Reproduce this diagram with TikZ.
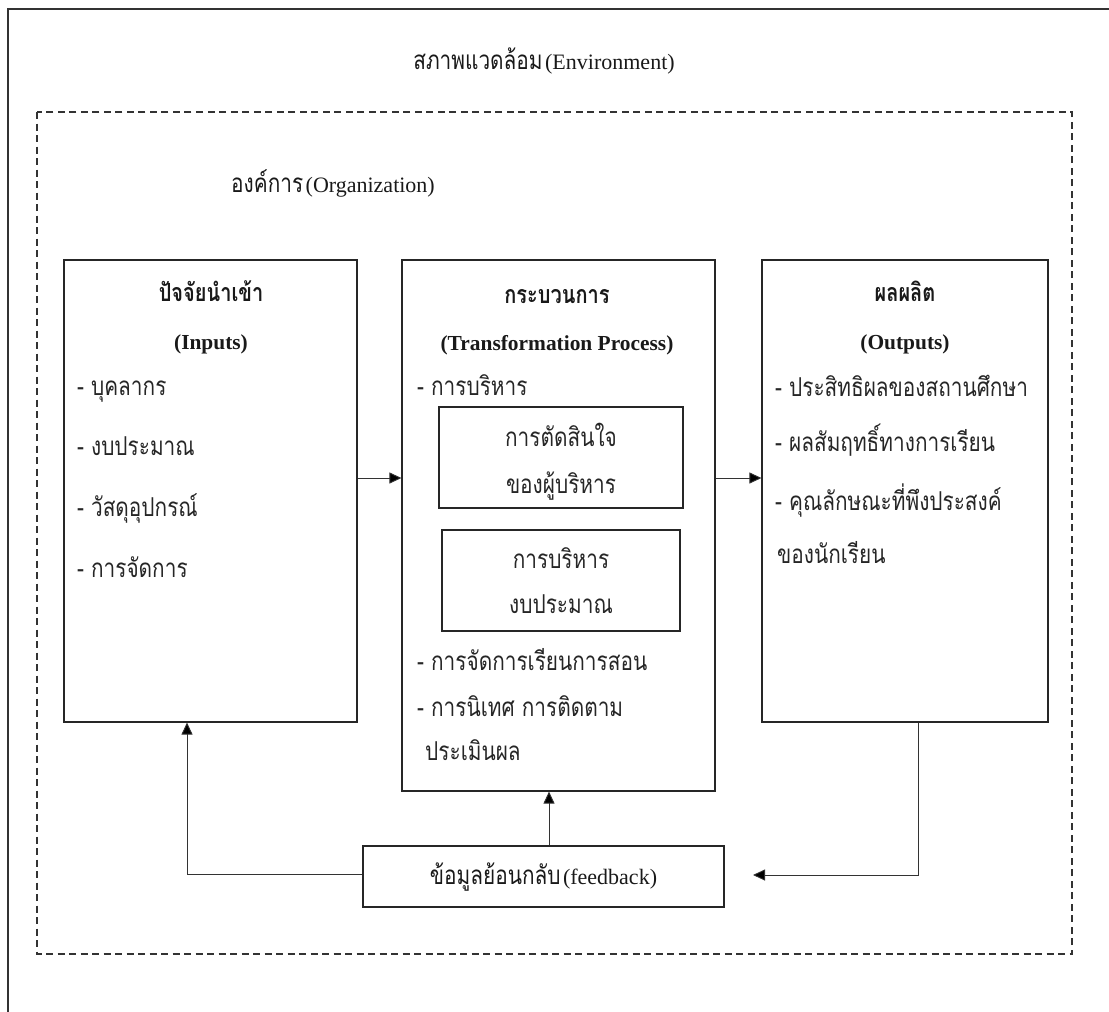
\documentclass[tikz,border=0pt]{standalone}
\usepackage{fontspec}
\setmainfont{Liberation Serif}
\newfontfamily\thai[Script=Thai,FakeStretch=0.8]{Loma}
\usetikzlibrary{arrows.meta}
\newcommand\tf{\thai\fontsize{26}{30}\selectfont}
\newcommand\lf{\rmfamily\fontsize{22}{26}\selectfont}
\newcommand\bfx{\bfseries\fontsize{21.4}{25}\selectfont}
\newcommand\tbf{\thai\bfseries\fontsize{25}{29}\selectfont}
\begin{document}
\begin{tikzpicture}[x=1pt,y=-1pt,
  bx/.style={draw=black!85, line width=1.1pt, inner sep=0pt},
  tl/.style={font=\tf, text=black!85, inner sep=0pt, anchor=base west},
  tc/.style={font=\tf, text=black!85, inner sep=0pt, anchor=base},
  hd/.style={text=black!90, inner sep=0pt, anchor=base},
  arr/.style={draw=black!80, line width=0.9pt, -{Triangle[length=12pt,width=11pt,fill=black]}},
  ln/.style={draw=black!80, line width=0.9pt}]
\useasboundingbox (0,0) rectangle (1109,1012);
% outer frame (environment)
\draw[line width=1.6pt, black!80] (8,1012) -- (8,9) -- (1109,9);
\node[hd] (env) at (544,69) {{\tf สภาพแวดล้อม} {\lf (Environment)}};
% organization dashed frame
\draw[black!80, line width=1.7pt, dash pattern=on 7pt off 4.5pt] (37,112) rectangle (1072,954);
\node[hd] (org) at (333,192) {{\tf องค์การ} {\lf (Organization)}};
% boxes
\node[bx, minimum width=293pt, minimum height=462pt] (inp) at (210.5,491) {};
\node[bx, minimum width=313pt, minimum height=531pt] (proc) at (558.5,525.5) {};
\node[bx, minimum width=286pt, minimum height=462pt] (out) at (905,491) {};
\node[bx, minimum width=244pt, minimum height=101pt] (sub1) at (561,457.5) {};
\node[bx, minimum width=238pt, minimum height=101pt] (sub2) at (561,580.5) {};
\node[bx, minimum width=361pt, minimum height=61pt] (fb) at (543.5,876.5) {};
% inputs text
\node[hd] (inT) at (211,301) {\tbf ปัจจัยนำเข้า};
\node[hd] (inE) at (211,349) {\bfx (Inputs)};
\node[tl] (in1) at (77,395) {- บุคลากร};
\node[tl] (in2) at (77,455) {- งบประมาณ};
\node[tl] (in3) at (77,516) {- วัสดุอุปกรณ์};
\node[tl] (in4) at (77,577) {- การจัดการ};
% process text
\node[hd] (prT) at (557,303) {\tbf กระบวนการ};
\node[hd] (prE) at (557,350) {\bfx (Transformation Process)};
\node[tl] (pr1) at (417,395) {- การบริหาร};
\node[tc] (s1a) at (561,446) {การตัดสินใจ};
\node[tc] (s1b) at (561,493) {ของผู้บริหาร};
\node[tc] (s2a) at (561,568) {การบริหาร};
\node[tc] (s2b) at (561,613) {งบประมาณ};
\node[tl] (pr2) at (417,670) {- การจัดการเรียนการสอน};
\node[tl] (pr3) at (417,716) {- การนิเทศ การติดตาม};
\node[tl] (pr4) at (425,760) {ประเมินผล};
% outputs text
\node[hd] (ouT) at (905,301) {\tbf ผลผลิต};
\node[hd] (ouE) at (905,349) {\bfx (Outputs)};
\node[tl] (ou1) at (775,396) {- ประสิทธิผลของสถานศึกษา};
\node[tl] (ou2) at (775,451) {- ผลสัมฤทธิ์ทางการเรียน};
\node[tl] (ou3) at (775,510) {- คุณลักษณะที่พึงประสงค์};
\node[tl] (ou4) at (777,563) {ของนักเรียน};
% feedback text
\node[hd] (fbt) at (543.5,884) {{\tf ข้อมูลย้อนกลับ} {\lf (feedback)}};
% connectors
\draw[arr] (inp.east |- 0,478) -- (proc.west |- 0,478);
\draw[arr] (proc.east |- 0,478) -- (out.west |- 0,478);
\draw[arr] (fb.west |- 0,874) -| ([xshift=-23.5pt]inp.south);
\draw[arr] ([xshift=5.5pt]fb.north) -- ([xshift=5.5pt]fb.north |- proc.south);
\coordinate (fbin) at (753,875);
\draw[arr] ([xshift=13pt]out.south) |- (fbin);
\end{tikzpicture}
\end{document}
